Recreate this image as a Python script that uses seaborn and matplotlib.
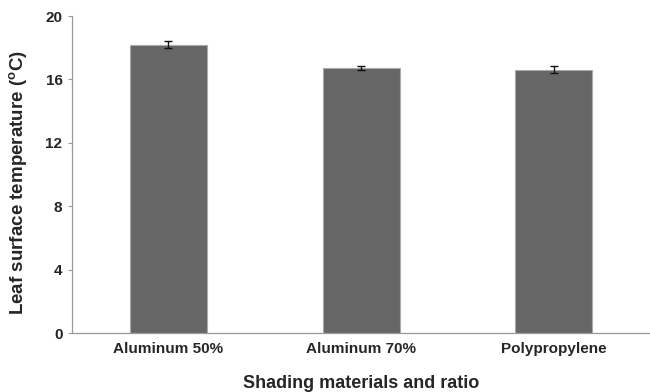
import matplotlib
matplotlib.use("Agg")
import matplotlib.pyplot as plt
import seaborn as sns
import pandas as pd
import numpy as np

# Leaf surface temperature by shading material
materials = ["Aluminum 50%", "Aluminum 70%", "Polypropylene"]
temperature = [18.2, 16.7, 16.6]
std_err = [0.22, 0.12, 0.22]
y_ticks = [0, 4, 8, 12, 16, 20]

df = pd.DataFrame({"material": materials, "temp": temperature})

sns.set_theme(style="white")
plt.rcParams["font.family"] = ["Liberation Sans", "DejaVu Sans"]
plt.rcParams["mathtext.fontset"] = "custom"
plt.rcParams["mathtext.rm"] = "Liberation Sans:bold"
plt.rcParams["mathtext.default"] = "rm"

fig = plt.figure(figsize=(6.5, 3.92), dpi=100)
ax = fig.add_axes([0.111, 0.150, 0.889, 0.809])

sns.barplot(data=df, x="material", y="temp", color="#666666", width=0.4,
            saturation=1, edgecolor="#aaaaaa", linewidth=0.8, ax=ax)
ax.errorbar(np.arange(len(materials)), temperature, yerr=std_err, fmt="none",
            ecolor="#111111", elinewidth=1.0, capsize=3, capthick=1.0)

ax.set_xlim(-0.5, len(materials) - 0.5)
ax.set_ylim(0, 20)
ax.set_yticks(y_ticks)
ax.set_yticklabels([str(t) for t in y_ticks], fontsize=11, fontweight="bold")
ax.set_xticks(range(len(materials)))
ax.set_xticklabels(materials, fontsize=11, fontweight="bold")
ax.set_xticks(np.arange(-0.5, len(materials), 1.0), minor=True)

ax.tick_params(axis="x", which="major", length=0, pad=6)
ax.tick_params(axis="x", which="minor", length=3, color="#999999", width=0.8)
ax.tick_params(axis="y", length=3, color="#999999", width=0.8, pad=4, left=True)

for side in ("top", "right"):
    ax.spines[side].set_visible(False)
for side in ("left", "bottom"):
    ax.spines[side].set_color("#999999")
    ax.spines[side].set_linewidth(0.9)

ax.set_xlabel("Shading materials and ratio", fontsize=13, fontweight="bold", labelpad=14)
ax.set_ylabel(r"Leaf surface temperature ($^{o}$C)", fontsize=13.5, fontweight="bold")
ax.yaxis.set_label_coords(-0.093, 0.476)
ax.yaxis.label.set_verticalalignment("center")

fig.savefig("out.png", dpi=100)
